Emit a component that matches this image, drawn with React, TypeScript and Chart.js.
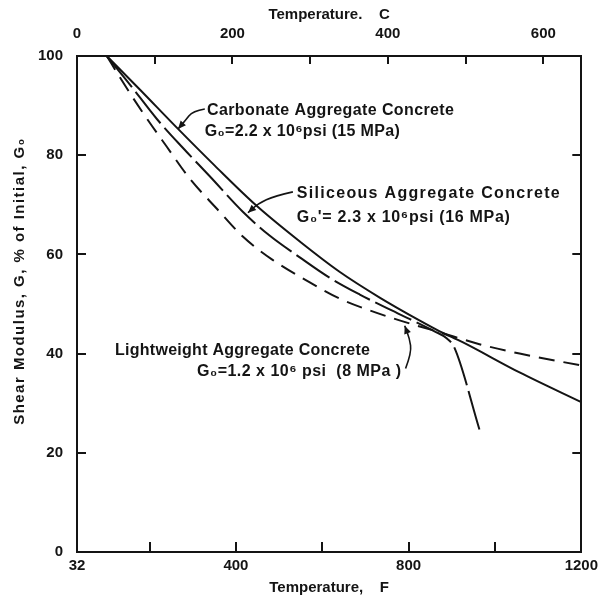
import React, { useEffect, useRef } from "react";
import { Chart, registerables } from "chart.js";

Chart.register(...registerables);

// ---- Data ----
// Temperature in °F, shear modulus in % of initial G0
const carbonateF = [101, 178, 266, 351, 448, 548, 640, 733, 825, 872, 925, 1057, 1200];
const carbonateG = [100, 93.2, 85.3, 77.9, 69.8, 62.6, 56.5, 51.3, 46.7, 44.5, 42.3, 36.2, 30.2];

const siliceousF = [101, 155, 217, 277, 340, 416, 478, 548, 617, 687, 756, 809, 860, 888, 906, 964];
const siliceousG = [100, 94.2, 87.3, 81.5, 75.7, 68.6, 63.8, 59.4, 55.3, 51.9, 48.9, 46.7, 44.5, 43.1, 41.2, 24.7];

const lightweightF = [101, 132, 185, 240, 293, 356, 416, 485, 564, 640, 710, 779, 872, 964, 1057, 1200];
const lightweightG = [100, 95.6, 88.5, 81.7, 75.3, 69.2, 63.6, 58.9, 54.7, 51.1, 48.7, 46.7, 44.3, 41.9, 40.0, 37.6];

// Axis ticks
const bottomTickValues = [32, 200, 400, 600, 800, 1000, 1200];
const bottomLabelValues = [32, 400, 800, 1200];
const bottomInnerTicks = [200, 400, 600, 800, 1000];
const topTickValues = [0, 100, 200, 300, 400, 500, 600];
const topLabelValues = [0, 200, 400, 600];
const topInnerTicks = [100, 200, 300, 400, 500, 600];
const yTickValues = [0, 20, 40, 60, 80, 100];
const yInnerTicks = [20, 40, 60, 80];

const F_MIN = 32;
const F_MAX = 1200;
const fToC = (f: number) => (f - 32) / 1.8;

const INK = "#141414";
const FAMILY = '"Liberation Sans", Arial, "DejaVu Sans", sans-serif';

const toXY = (xs: number[], ys: number[]) => xs.map((x, i) => ({ x, y: ys[i] }));

// Annotation texts, anchored in data coordinates (°F, %)
const notes = [
  { text: "Carbonate Aggregate Concrete", f: 333, g: 88.9, w: 247 },
  { text: "G\u2080=2.2 x 10\u2076psi (15 MPa)", f: 328, g: 84.7, w: 195 },
  { text: "Siliceous Aggregate Concrete", f: 541, g: 72.2, w: 263 },
  { text: "G\u2080'= 2.3 x 10\u2076psi (16 MPa)", f: 541, g: 67.4, w: 213 },
  { text: "Lightweight Aggregate Concrete", f: 120, g: 40.6, w: 255 },
  { text: "G\u2080=1.2 x 10\u2076 psi  (8 MPa )", f: 310, g: 36.4, w: 204 },
];

const arrows = [
  [ [328, 89.3], [300, 88.9], [282, 86.9], [266, 85.3] ],
  [ [532, 72.6], [490, 71.8], [451, 70.2], [428, 68.4] ],
  [ [793, 37.0], [807, 40.2], [802, 43.1], [791, 45.6] ],
];

const overlayPlugin = {
  id: "overlay",
  afterDraw(chart: any) {
    const { ctx, chartArea, scales } = chart;
    const { left, right, top, bottom } = chartArea;
    const sx = scales.x;
    const sy = scales.y;
    const sc = scales.xC;
    ctx.save();
    ctx.strokeStyle = INK;
    ctx.fillStyle = INK;
    ctx.lineWidth = 2;
    ctx.lineCap = "butt";
    // inward tick marks
    ctx.beginPath();
    for (const v of bottomInnerTicks) {
      const px = Math.round(sx.getPixelForValue(v));
      ctx.moveTo(px, bottom);
      ctx.lineTo(px, bottom - 10);
    }
    for (const v of topInnerTicks) {
      const px = Math.round(sc.getPixelForValue(v));
      ctx.moveTo(px, top);
      ctx.lineTo(px, top + 8);
    }
    for (const v of yInnerTicks) {
      const py = Math.round(sy.getPixelForValue(v));
      ctx.moveTo(left, py);
      ctx.lineTo(left + 9, py);
      ctx.moveTo(right, py);
      ctx.lineTo(right - 9, py);
    }
    ctx.stroke();

    // annotation arrows
    ctx.lineWidth = 1.6;
    for (const a of arrows) {
      const pts = a.map(([f, g]) => [sx.getPixelForValue(f), sy.getPixelForValue(g)]);
      ctx.beginPath();
      ctx.moveTo(pts[0][0], pts[0][1]);
      for (let i = 1; i < pts.length - 1; i++) {
        const mx = (pts[i][0] + pts[i + 1][0]) / 2;
        const my = (pts[i][1] + pts[i + 1][1]) / 2;
        ctx.quadraticCurveTo(pts[i][0], pts[i][1], mx, my);
      }
      const end = pts[pts.length - 1];
      const prev = pts[pts.length - 2];
      ctx.lineTo(end[0], end[1]);
      ctx.stroke();
      const ang = Math.atan2(end[1] - prev[1], end[0] - prev[0]);
      const L = 8, W = 3.5;
      ctx.beginPath();
      ctx.moveTo(end[0], end[1]);
      ctx.lineTo(end[0] - L * Math.cos(ang) + W * Math.sin(ang), end[1] - L * Math.sin(ang) - W * Math.cos(ang));
      ctx.lineTo(end[0] - L * Math.cos(ang) - W * Math.sin(ang), end[1] - L * Math.sin(ang) + W * Math.cos(ang));
      ctx.closePath();
      ctx.fill();
    }

    // annotation text
    ctx.font = `bold 16px ${FAMILY}`;
    ctx.textAlign = "left";
    ctx.textBaseline = "middle";
    for (const n of notes) {
      (ctx as any).letterSpacing = "0px";
      const m = ctx.measureText(n.text).width;
      const ls = (n.w - m) / Math.max(1, n.text.length - 1);
      (ctx as any).letterSpacing = `${ls.toFixed(2)}px`;
      ctx.fillText(n.text, sx.getPixelForValue(n.f), sy.getPixelForValue(n.g));
    }
    (ctx as any).letterSpacing = "0px";

    // y-axis title
    ctx.save();
    ctx.translate(20, (top + bottom) / 2 - 23);
    ctx.rotate(-Math.PI / 2);
    ctx.textAlign = "center";
    ctx.font = `bold 15px ${FAMILY}`;
    const yt = "Shear Modulus, G, % of Initial, G\u2080";
    const ym = ctx.measureText(yt).width;
    (ctx as any).letterSpacing = `${((286 - ym) / (yt.length - 1)).toFixed(2)}px`;
    ctx.fillText(yt, 0, 0);
    (ctx as any).letterSpacing = "0px";
    ctx.restore();

    ctx.restore();
  },
};

export default function App() {
  const ref = useRef<HTMLCanvasElement>(null);

  useEffect(() => {
    const canvas = ref.current;
    if (!canvas) return;
    const tickFont = { family: FAMILY, size: 15, weight: "bold" as const };
    const titleFont = { family: FAMILY, size: 15, weight: "bold" as const };
    const chart = new Chart(canvas, {
      type: "line",
      data: {
        datasets: [
          {
            label: "Carbonate Aggregate Concrete",
            data: toXY(carbonateF, carbonateG),
            borderColor: INK,
            borderWidth: 2,
            pointRadius: 0,
            cubicInterpolationMode: "monotone",
            fill: false,
          },
          {
            label: "Siliceous Aggregate Concrete",
            data: toXY(siliceousF, siliceousG),
            borderColor: INK,
            borderWidth: 2,
            borderDash: [40, 6],
            pointRadius: 0,
            cubicInterpolationMode: "monotone",
            fill: false,
          },
          {
            label: "Lightweight Aggregate Concrete",
            data: toXY(lightweightF, lightweightG),
            borderColor: INK,
            borderWidth: 2,
            borderDash: [16, 9],
            pointRadius: 0,
            cubicInterpolationMode: "monotone",
            fill: false,
          },
        ],
      },
      options: {
        responsive: false,
        animation: false,
        devicePixelRatio: 1,
        layout: { padding: 0 },
        plugins: {
          legend: { display: false },
          tooltip: { enabled: false },
        },
        scales: {
          x: {
            type: "linear",
            position: "bottom",
            min: F_MIN,
            max: F_MAX,
            afterBuildTicks: (s: any) => {
              s.ticks = bottomTickValues.map((v) => ({ value: v }));
            },
            afterFit: (s: any) => {
              s.height = 49;
            },
            ticks: {
              autoSkip: false,
              maxRotation: 0,
              padding: 5,
              color: INK,
              font: tickFont,
              callback: (v: any) => (bottomLabelValues.includes(Number(v)) ? String(v) : ""),
            },
            grid: { display: false, drawTicks: false },
            border: { display: true, width: 2, color: INK },
            title: {
              display: true,
              text: "Temperature,    F",
              color: INK,
              font: titleFont,
              padding: { top: 0, bottom: 4 },
            },
          },
          xC: {
            type: "linear",
            position: "top",
            min: fToC(F_MIN),
            max: fToC(F_MAX),
            afterBuildTicks: (s: any) => {
              s.ticks = topTickValues.map((v) => ({ value: v }));
            },
            afterFit: (s: any) => {
              s.height = 56;
            },
            ticks: {
              autoSkip: false,
              maxRotation: 0,
              padding: 13,
              color: INK,
              font: tickFont,
              callback: (v: any) => (topLabelValues.includes(Number(v)) ? String(v) : ""),
            },
            grid: { display: false, drawTicks: false },
            border: { display: true, width: 2, color: INK },
            title: {
              display: true,
              text: "Temperature.    C",
              color: INK,
              font: titleFont,
              padding: { top: 6, bottom: 0 },
            },
          },
          y: {
            type: "linear",
            position: "left",
            min: 0,
            max: 100,
            afterBuildTicks: (s: any) => {
              s.ticks = yTickValues.map((v) => ({ value: v }));
            },
            afterFit: (s: any) => {
              s.width = 77;
            },
            ticks: {
              autoSkip: false,
              padding: 14,
              color: INK,
              font: tickFont,
            },
            grid: { display: false, drawTicks: false },
            border: { display: true, width: 2, color: INK },
          },
          yR: {
            type: "linear",
            position: "right",
            min: 0,
            max: 100,
            afterFit: (s: any) => {
              s.width = 21;
            },
            ticks: { display: false },
            grid: { display: false, drawTicks: false },
            border: { display: true, width: 2, color: INK },
          },
        },
      },
      plugins: [overlayPlugin],
    } as any);
    return () => {
      chart.destroy();
    };
  }, []);

  return (
    <div style={{ position: "fixed", left: 0, top: 0, width: 603, height: 601, background: "#fff" }}>
      <canvas ref={ref} width={603} height={601} style={{ width: 603, height: 601, display: "block" }} />
    </div>
  );
}
